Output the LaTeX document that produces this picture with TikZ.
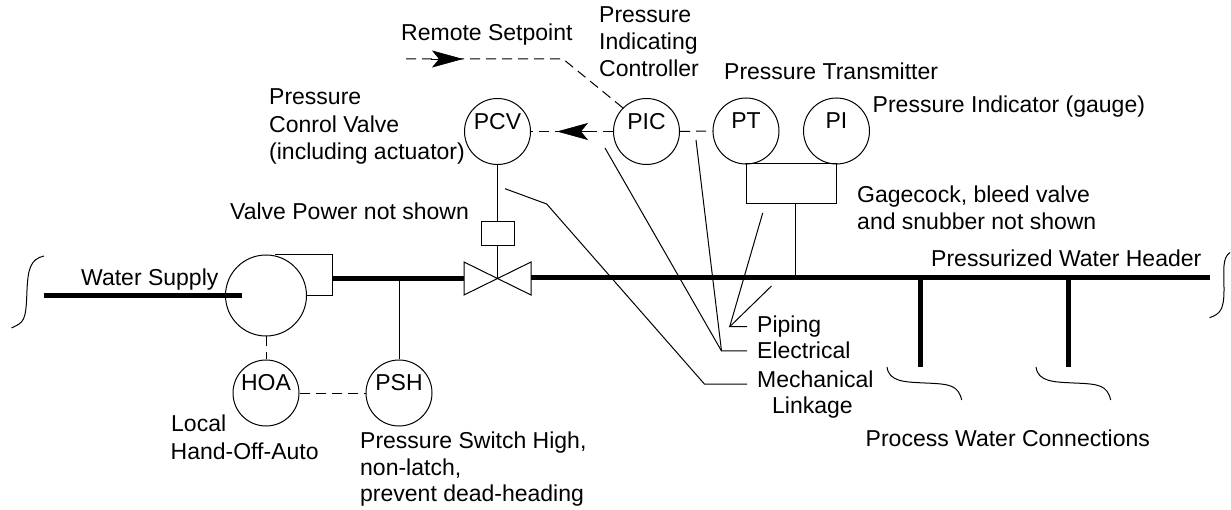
\documentclass[tikz,border=0pt]{standalone}
\usepackage{fontspec}
\setmainfont{Liberation Sans}
\usetikzlibrary{arrows.meta}
\tikzset{
  x=1pt,y=-1pt,
  thin line/.style={draw=black,line width=1pt},
  dash line/.style={thin line,dash pattern=on 10pt off 6pt},
  pipe/.style={draw=black,line width=5pt},
  inst/.style={circle,thin line,minimum size=66pt,inner sep=0pt,
     label={[txt,anchor=center,yshift=10pt]center:#1}},
  txt/.style={font=\fontsize{23}{26}\selectfont,inner sep=0pt,text=black},
  lab/.style={txt,anchor=base west},
  flow/.style={draw=black,line width=0.6pt,-{Stealth[length=31pt,width=17pt,inset=7pt]}},
}
\begin{document}
\begin{tikzpicture}
\useasboundingbox (0,0) rectangle (1231,510);
% instruments
\node[inst=PCV] (PCV) at (497.5,131.5) {};
\node[inst=PIC] (PIC) at (646.5,131.5) {};
\node[inst=PT] (PT) at (746,131) {};
\node[inst=PI] (PI) at (836.5,131) {};
\node[inst=HOA] (HOA) at (266,393) {};
\node[inst=PSH] (PSH) at (399,393) {};
\node[circle,thin line,minimum size=81pt,inner sep=0pt] (pump) at (266,295.5) {};
\node[rectangle,thin line,minimum width=33pt,minimum height=24pt,inner sep=0pt] (act) at (497.5,234) {};
\node[rectangle,thin line,minimum width=90.5pt,minimum height=40pt,inner sep=0pt] (gbox) at (791.5,184) {};
% named points
\coordinate (vc) at (497.5,278.5);
\coordinate (vlt) at (464,262); \coordinate (vlb) at (464,295);
\coordinate (vrt) at (531,262); \coordinate (vrb) at (531,295);
\coordinate (in0) at (43.5,295.5); \coordinate (in1) at (241.5,295.5);
\coordinate (ot) at (275,254.5); \coordinate (otc) at (332,254.5);
\coordinate (obc) at (332,295.5); \coordinate (ob) at (307,295.5);
\coordinate (hl) at (332,279); \coordinate (hm) at (464,279);
\coordinate (h2) at (531,278); \coordinate (h3) at (1210,278);
\coordinate (tpsh) at (399,279); \coordinate (tg) at (795.5,278);
\coordinate (d1) at (920,278); \coordinate (d1e) at (920,367);
\coordinate (d2) at (1068.5,278); \coordinate (d2e) at (1068.5,367);
\coordinate (rs0) at (406,59); \coordinate (rs1) at (563,59);
% piping
\draw[pipe] (in0) -- (in1);
\draw[pipe] (hl) -- (hm);
\draw[pipe] (h2) -- (h3);
\draw[pipe] (d1) -- (d1e);
\draw[pipe] (d2) -- (d2e);
% pump outlet, valve
\draw[thin line] (ot) -- (otc) -- (obc) -- (ob);
\draw[thin line] (vlt) -- (vc) -- (vlb) -- cycle;
\draw[thin line] (vrt) -- (vc) -- (vrb) -- cycle;
% mechanical / piping connections
\draw[thin line] (PCV.south) -- (act.north);
\draw[thin line] (act.south) -- (vc);
\draw[thin line] (PT.south) -- (gbox.north west);
\draw[thin line] (PI.south) -- (gbox.north east);
\draw[thin line] (gbox.south -| tg) -- (tg);
\draw[thin line] (tpsh) -- (tpsh |- PSH.north);
% electrical
\draw[dash line] (rs0) -- (rs1) -- (PIC.135);
\draw[dash line] (PIC.west) -- (PCV.east);
\draw[dash line] (PIC.east) -- (PT.west);
\draw[dash line] (pump.south) -- (HOA.north);
\draw[dash line] (HOA.east) -- (PSH.west);
\coordinate (a1b) at (431,59); \coordinate (a1t) at (463,59);
\coordinate (a2b) at (589,131.5); \coordinate (a2t) at (557,131.5);
\draw[flow] (a1b) -- (a1t);
\draw[flow] (a2b) -- (a2t);
% legend leaders
\coordinate (pj) at (729.7,326.7); \coordinate (pe) at (747,326.7);
\coordinate (ej) at (721.5,351); \coordinate (ee) at (747,351);
\coordinate (mj) at (704.4,384); \coordinate (me) at (747,384);
\coordinate (p1) at (771.5,286); \coordinate (p2) at (762.7,213);
\coordinate (e1) at (605,148); \coordinate (e2) at (696,140);
\coordinate (m1) at (546.7,204); \coordinate (m2) at (505,188.7);
\draw[thin line] (pe) -- (pj) -- (p1);
\draw[thin line] (pj) -- (p2);
\draw[thin line] (ee) -- (ej) -- (e1);
\draw[thin line] (ej) -- (e2);
\draw[thin line] (me) -- (mj) -- (m1) -- (m2);
% break marks
\draw[thin line] (44,256) .. controls (30,259) and (28,270) .. (27,290) .. controls (26,322) and (24,322) .. (11.5,328);
\draw[thin line] (1230,252.5) .. controls (1222,258) and (1224,270) .. (1224,290) .. controls (1224,310) and (1220,314) .. (1209.6,317.7);
\draw[thin line] (887,367) .. controls (889,382) and (905,382) .. (925,383) .. controls (950,384) and (958,385) .. (961.7,400);
\draw[thin line] (1036,367) .. controls (1038,382) and (1054,382) .. (1074,383) .. controls (1099,384) and (1107,385) .. (1110.7,400);
% texts
\node[lab] (t1) at (401,41) {Remote Setpoint};
\node[lab] (t2a) at (599,23) {Pressure};
\node[lab] (t2b) at (599,50) {Indicating};
\node[lab] (t2c) at (599,77) {Controller};
\node[lab] (t3) at (724,80) {Pressure Transmitter};
\node[lab] (t4) at (872.5,112.7) {Pressure Indicator (gauge)};
\node[lab] (t5a) at (269,105) {Pressure};
\node[lab] (t5b) at (269,132.7) {Conrol Valve};
\node[lab] (t5c) at (269,160) {(including actuator)};
\node[lab] (t6) at (230,220) {Valve Power not shown};
\node[lab] (t7a) at (857,202.7) {Gagecock, bleed valve};
\node[lab] (t7b) at (857,229.3) {and snubber not shown};
\node[lab] (t8) at (931,267) {Pressurized Water Header};
\node[lab] (t9) at (81,286) {Water Supply};
\node[lab] (t10a) at (171,431.7) {Local};
\node[lab] (t10b) at (170.5,459) {Hand-Off-Auto};
\node[lab] (t11a) at (360,448) {Pressure Switch High,};
\node[lab] (t11b) at (360,475.7) {non-latch,};
\node[lab] (t11c) at (360,501.7) {prevent dead-heading};
\node[lab] (t12a) at (757,333) {Piping};
\node[lab] (t12b) at (757,359) {Electrical};
\node[lab] (t12c) at (757,387) {Mechanical};
\node[lab] (t12d) at (772,413) {Linkage};
\node[lab] (t13) at (865.5,446) {Process Water Connections};
\end{tikzpicture}
\end{document}
